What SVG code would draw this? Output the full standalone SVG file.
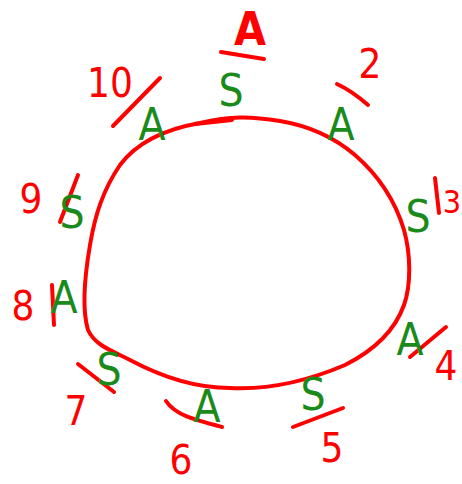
<svg xmlns="http://www.w3.org/2000/svg" width="462" height="484" viewBox="0 0 462 484">
<style>
.ring{fill:none;stroke:#f00;stroke-width:4;stroke-linecap:round;stroke-linejoin:round}
.mark{fill:none;stroke:#f00;stroke-width:4;stroke-linecap:round}
.g{font-family:"Liberation Sans Narrow","DejaVu Sans Condensed","Liberation Sans",sans-serif;font-size:44px;fill:#1a8a1a;text-anchor:middle}
.r{font-family:"Liberation Sans Narrow","DejaVu Sans Condensed","Liberation Sans",sans-serif;font-size:40px;fill:#f00;text-anchor:middle}
</style>
<rect width="462" height="484" fill="#fff"/>
<g id="ring">
<path class="ring" d="M200,123 C230,116 250,116 280,121 C310,126 335,138 355,155 C378,175 395,200 404,230 C411,255 411,285 404,305 C395,330 375,350 345,365 C310,380 270,390 230,388 C195,388 160,376 130,360 C110,350 95,345 88,330 C82,310 84,280 90,245 C95,215 103,190 120,165 C135,145 160,130 200,123 Z"/>
<path class="ring" d="M195,124 L232,120"/>
</g>
<g id="connectors">
<path class="mark" d="M221,52 L264,59"/>
<path class="mark" d="M113,126 L160,78"/>
<path class="mark" d="M337,84 C350,90 360,98 368,105"/>
<path class="mark" d="M435,178 L439,213"/>
<path class="mark" d="M410,357 L446,327"/>
<path class="mark" d="M293,427 L343,408"/>
<path class="mark" d="M166,401 C175,415 195,420 222,427"/>
<path class="mark" d="M78,364 L114,392"/>
<path class="mark" d="M52,285 L54,325"/>
<path class="mark" d="M78,175 L60,222"/>
</g>
<g id="n1"><text class="r" x="250" y="45" style="font-size:46px;font-weight:bold">A</text><text class="g" x="231" y="106">S</text></g>
<g id="n2"><text class="r" x="370" y="78">2</text><text class="g" x="341" y="140">A</text></g>
<g id="n3"><text class="r" x="452" y="213" style="font-size:32px">3</text><text class="g" x="418" y="232">S</text></g>
<g id="n4"><text class="r" x="446" y="380">4</text><text class="g" x="410" y="355">A</text></g>
<g id="n5"><text class="r" x="332" y="462">5</text><text class="g" x="313" y="410">S</text></g>
<g id="n6"><text class="r" x="181" y="474">6</text><text class="g" x="207" y="422">A</text></g>
<g id="n7"><text class="r" x="76" y="425">7</text><text class="g" x="109" y="385">S</text></g>
<g id="n8"><text class="r" x="23" y="320">8</text><text class="g" x="64" y="313">A</text></g>
<g id="n9"><text class="r" x="31" y="213">9</text><text class="g" x="72" y="228">S</text></g>
<g id="n10"><text class="r" x="110" y="97">10</text><text class="g" x="152" y="140">A</text></g>
</svg>
